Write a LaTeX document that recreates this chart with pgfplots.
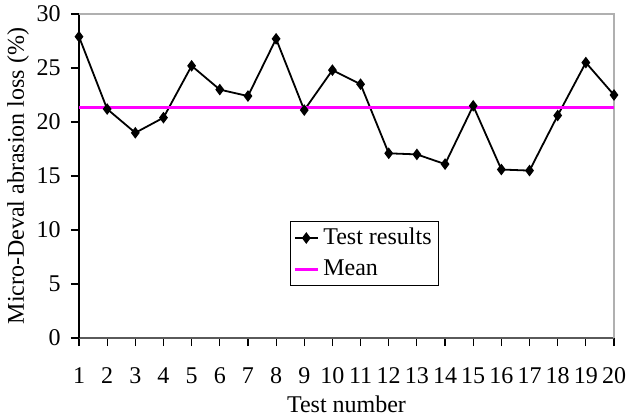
\documentclass[border=0pt]{standalone}
\usepackage{pgfplots}
\pgfplotsset{compat=1.18}
\usepackage{fontspec}
\setmainfont{Liberation Serif}
\definecolor{meancol}{RGB}{255,0,255}
\definecolor{framegray}{RGB}{176,176,176}
\definecolor{botgray}{RGB}{90,90,90}
\begin{document}
\begin{tikzpicture}
\useasboundingbox (-39.5bp,-38.5bp) rectangle (273.5bp,169bp);
\begin{axis}[
  at={(0,0)}, anchor=south west,
  scale only axis, width=267.5bp, height=162bp,
  xmin=1, xmax=20, ymin=0, ymax=30,
  xtick={1,...,20}, ytick={0,5,...,30},
  axis x line*=bottom, axis y line*=left,
  x axis line style={draw=botgray, line width=0.8bp, -},
  y axis line style={draw=black, line width=0.8bp, -},
  tick align=outside, major tick length=4bp,
  tick style={black, line width=0.6bp},
  /pgf/number format/assume math mode=true,
  tick label style={font=\fontsize{12bp}{13bp}\selectfont},
  xticklabel style={anchor=base, inner sep=0pt, yshift=-18.5bp},
  yticklabel style={anchor=east, inner sep=0pt, xshift=-5bp},
  xlabel={Test number}, ylabel={Micro-Deval abrasion loss (\%)},
  label style={font=\fontsize{12bp}{13bp}\selectfont},
  xlabel style={at={(axis description cs:0.5,0)}, anchor=base, yshift=-37bp},
  ylabel style={at={([xshift=-30.5bp]axis description cs:0,0.5)}, anchor=center, rotate=0},
  legend style={at={(rel axis cs:0.394,0.362)}, anchor=north west, draw=black, line width=0.5bp,
    font=\fontsize{12bp}{13bp}\selectfont, inner sep=1.5bp, row sep=2bp,
    cells={anchor=west}},
  legend image code/.code={\draw[#1, mark repeat=2, mark phase=2] plot coordinates {(0bp,0bp) (5.75bp,0bp) (11.5bp,0bp)}; },
  clip=false,
]
\draw[framegray, line width=0.8bp] (rel axis cs:0,1) -- (rel axis cs:1,1) -- (rel axis cs:1,0);
\addplot[black, line width=0.9bp, mark=diamond*, mark size=2.2bp, mark options={solid}] coordinates {
(1,27.9) (2,21.2) (3,19.0) (4,20.4) (5,25.2) (6,23.0) (7,22.4) (8,27.7) (9,21.1) (10,24.8)
(11,23.5) (12,17.1) (13,17.0) (14,16.1) (15,21.5) (16,15.6) (17,15.5) (18,20.6) (19,25.5) (20,22.5)
};
\addlegendentry{Test results}
\addplot[meancol, line width=1.5bp] coordinates {(1,21.38) (20,21.38)};
\addlegendentry{Mean}
\end{axis}
\end{tikzpicture}
\end{document}
